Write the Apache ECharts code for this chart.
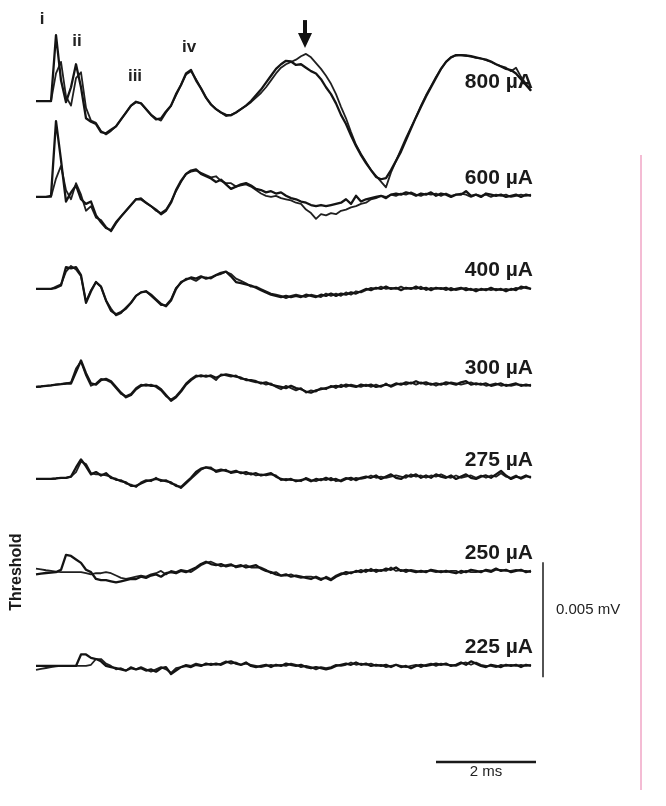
<!DOCTYPE html>
<html><head><meta charset="utf-8">
<script src="https://cdn.jsdelivr.net/npm/echarts/dist/echarts.min.js"></script>
<style>html,body{margin:0;padding:0;background:#fff}#c{width:666px;height:806px}</style>
</head><body><div id="c"></div>
<script>
// sample spacing (ms); every trace starts at t = 0
const DT = 0.1;
// stimulus levels (top to bottom)
const levels = ['800 µA', '600 µA', '400 µA', '300 µA', '275 µA', '250 µA', '225 µA'];
// vertical stacking offset of each trace baseline (µV)
const offsets = [30.65, 26.48, 22.48, 18.22, 14.22, 10.17, 6.09];

// two repeated recordings per level, values in µV relative to baseline
const tr800a = [0,0,0,0,2.87,0.9,-0.05,0.6,1.6,0.6,
-0.75,-0.9,-1.0,-1.35,-1.4,-1.25,-1.1,-0.8,-0.5,-0.2,
-0.03,-0.1,-0.35,-0.6,-0.8,-0.75,-0.45,-0.2,0.3,0.7,
1.2,1.35,0.9,0.55,0.15,-0.15,-0.35,-0.5,-0.6,-0.62,
-0.5,-0.35,-0.2,0.0,0.25,0.5,0.8,1.1,1.4,1.6,
1.75,1.72,1.57,1.6,1.45,1.3,1.2,0.95,0.6,0.3,
-0.1,-0.6,-1.0,-1.5,-1.95,-2.35,-2.7,-3.0,-3.3,-3.4,
-3.35,-3.0,-2.6,-2.2,-1.7,-1.2,-0.7,-0.25,0.2,0.6,
1.0,1.4,1.7,1.9,2.0,2.0,1.98,1.95,1.9,1.85,
1.8,1.72,1.6,1.5,1.4,1.35,1.2,0.95,0.7,0.45];
const tr800b = [0,0,0,0,1.2,1.7,0.2,-0.2,1.0,1.25,
-0.3,-0.85,-0.95,-1.3,-1.45,-1.3,-1.1,-0.8,-0.5,-0.2,
-0.05,-0.1,-0.35,-0.6,-0.75,-0.85,-0.5,-0.2,0.25,0.7,
1.15,1.3,0.95,0.55,0.15,-0.15,-0.35,-0.5,-0.65,-0.6,
-0.5,-0.35,-0.2,-0.05,0.15,0.35,0.6,0.9,1.2,1.45,
1.6,1.7,1.8,1.95,2.05,1.9,1.65,1.4,1.1,0.75,
0.3,-0.25,-0.75,-1.35,-1.9,-2.3,-2.65,-3.0,-3.25,-3.5,
-3.75,-3.1,-2.6,-2.1,-1.6,-1.15,-0.7,-0.2,0.25,0.65,
1.05,1.4,1.7,1.9,1.98,2.0,1.97,1.93,1.88,1.85,
1.78,1.7,1.6,1.52,1.45,1.3,1.45,1.05,0.75,0.45];
const tr600a = [0,0,0,0.05,3.3,1.6,-0.2,0.2,0.5,-0.1,
-0.3,-0.2,-0.8,-1.1,-1.35,-1.45,-1.1,-0.85,-0.6,-0.35,
-0.1,-0.1,-0.25,-0.4,-0.55,-0.75,-0.6,-0.25,0.3,0.7,
1.0,1.15,1.2,1.0,0.9,0.8,0.65,0.75,0.55,0.35,
0.45,0.55,0.6,0.5,0.35,0.3,0.2,0.25,0.15,0.2,
0.05,-0.05,-0.1,-0.2,-0.25,-0.35,-0.4,-0.35,-0.4,-0.35,
-0.3,-0.25,-0.1,-0.3,0.05,-0.2,-0.1,-0.05,0.0,0.05,
-0.05,0.1,0.15,0.1,0.2,0.15,0.05,0.15,0.1,0.2,
0.05,0.15,0.1,0.0,0.1,0.1,0.25,0.05,0.1,0.0,
0.15,0.1,0.05,0.1,0.0,0.05,0.1,0.0,0.1,0.05];
const tr600b = [0,0,0,0,0.8,1.35,0.3,-0.1,0.6,0.1,
-0.6,-0.4,-0.9,-1.0,-1.3,-1.5,-1.15,-0.85,-0.6,-0.35,
-0.1,-0.05,-0.25,-0.4,-0.6,-0.7,-0.55,-0.2,0.25,0.65,
1.0,1.1,1.15,1.05,0.95,0.85,0.9,0.7,0.6,0.6,
0.45,0.5,0.55,0.45,0.3,0.15,0.05,0.0,0.05,-0.05,
-0.1,-0.15,-0.25,-0.3,-0.55,-0.7,-0.95,-0.75,-0.8,-0.7,
-0.75,-0.6,-0.55,-0.45,-0.4,-0.3,-0.25,-0.1,-0.05,0.05,
0.0,0.1,0.05,0.15,0.1,0.2,0.1,0.05,0.15,0.1,
0.15,0.05,0.15,0.05,0.1,0.15,0.1,0.0,0.1,0.05,
0.1,0.0,0.1,0.05,0.1,0.0,0.05,0.1,0.05,0.1];
const tr400a = [0,0,0,0,0.05,0.15,0.95,0.9,0.95,0.6,
-0.6,-0.1,0.3,0.1,-0.5,-0.95,-1.1,-1.0,-0.85,-0.6,
-0.3,-0.15,-0.1,-0.25,-0.45,-0.65,-0.75,-0.5,0.0,0.3,
0.4,0.5,0.45,0.55,0.45,0.5,0.6,0.7,0.75,0.55,
0.3,0.25,0.2,0.15,0.05,-0.05,-0.15,-0.25,-0.3,-0.35,
-0.3,-0.35,-0.3,-0.35,-0.25,-0.3,-0.35,-0.25,-0.3,-0.2,
-0.3,-0.2,-0.25,-0.15,-0.2,-0.1,0.0,-0.05,0.05,0.0,
0.1,0.0,0.05,-0.05,0.05,0.0,0.1,0.0,0.05,-0.05,
0.05,0.0,0.05,-0.05,0.0,0.05,-0.05,0.0,-0.1,0.0,
-0.05,0.05,-0.05,0.0,-0.1,0.0,-0.05,0.1,0.05,0.0];
const tr400b = [0,0,0,0,0.1,0.2,0.75,1.0,0.85,0.55,
-0.55,-0.05,0.3,0.1,-0.5,-0.85,-1.15,-1.05,-0.8,-0.6,
-0.3,-0.15,-0.1,-0.3,-0.5,-0.7,-0.7,-0.45,0.05,0.25,
0.45,0.45,0.35,0.5,0.5,0.45,0.6,0.65,0.75,0.65,
0.45,0.35,0.25,0.1,0.1,0.0,-0.1,-0.2,-0.25,-0.3,
-0.4,-0.3,-0.25,-0.3,-0.35,-0.25,-0.3,-0.35,-0.2,-0.3,
-0.2,-0.3,-0.15,-0.25,-0.1,-0.15,-0.05,0.05,0.0,0.1,
0.0,0.05,0.0,0.1,0.0,0.05,0.0,0.1,-0.05,0.05,
0.0,0.05,-0.05,0.05,-0.05,0.0,0.05,-0.05,0.0,-0.05,
0.0,-0.05,0.0,-0.05,0.0,-0.05,0.05,0.0,0.1,0.0];
const tr300a = [0,0.02,0.05,0.07,0.1,0.12,0.15,0.15,0.65,1.15,
0.6,0.15,0.1,0.3,0.35,0.25,0.0,-0.25,-0.45,-0.35,
-0.1,0.05,0.1,0.05,0.05,-0.1,-0.35,-0.6,-0.45,-0.2,
0.1,0.3,0.45,0.5,0.45,0.5,0.4,0.5,0.55,0.5,
0.45,0.4,0.3,0.3,0.25,0.15,0.2,0.1,0.05,0.0,
-0.05,0.05,-0.05,-0.1,-0.2,-0.25,-0.15,-0.1,-0.05,0.0,
0.05,0.0,0.1,0.05,0.0,0.1,0.05,0.1,0.0,0.05,
0.1,0.05,0.15,0.1,0.2,0.15,0.25,0.15,0.2,0.1,
0.15,0.1,0.2,0.15,0.1,0.2,0.25,0.1,0.15,0.1,
0.15,0.05,0.1,0.15,0.05,0.1,0.15,0.05,0.1,0.05];
const tr300b = [0,0.02,0.05,0.07,0.1,0.12,0.15,0.2,0.8,1.1,
0.5,0.05,0.15,0.35,0.3,0.2,-0.05,-0.3,-0.4,-0.3,
-0.05,0.1,0.05,0.1,0.0,-0.15,-0.4,-0.55,-0.4,-0.15,
0.15,0.35,0.5,0.45,0.5,0.45,0.3,0.55,0.5,0.45,
0.5,0.35,0.35,0.25,0.2,0.2,0.1,0.15,0.0,-0.1,
0.05,-0.05,-0.15,-0.05,-0.25,-0.15,-0.2,-0.05,-0.1,0.05,
-0.05,0.1,0.0,0.1,0.05,0.0,0.1,0.0,0.1,0.0,
0.15,0.0,0.1,0.15,0.1,0.2,0.1,0.2,0.1,0.15,
0.05,0.15,0.1,0.2,0.15,0.1,0.15,0.2,0.1,0.15,
0.05,0.1,0.15,0.05,0.1,0.05,0.1,0.1,0.05,0.1];
const tr275a = [0,0,0,0,0.02,0.05,0.05,0.1,0.5,0.85,
0.55,0.2,0.3,0.15,0.25,0.05,0.0,-0.1,-0.15,-0.3,
-0.3,-0.2,-0.1,-0.05,0.0,-0.05,-0.1,-0.15,-0.3,-0.35,
-0.15,0.05,0.3,0.45,0.5,0.45,0.35,0.4,0.35,0.3,
0.35,0.25,0.3,0.2,0.25,0.15,0.2,0.25,0.1,0.0,
-0.05,0.0,-0.1,-0.05,0.0,-0.1,0.0,-0.05,0.05,-0.05,
0.0,-0.1,0.0,0.05,-0.05,0.05,0.1,0.05,0.15,0.0,
0.1,0.2,0.05,0.0,0.15,0.1,0.2,0.05,0.15,0.05,
0.2,0.1,0.05,0.15,0.0,0.1,0.2,0.05,0.0,0.1,
0.15,0.05,0.2,0.35,0.15,0.0,0.1,0.05,0.15,0.05];
const tr275b = [0,0,0,0,0.02,0.05,0.05,0.1,0.3,0.75,
0.65,0.25,0.2,0.2,0.15,0.1,-0.05,-0.05,-0.2,-0.25,
-0.35,-0.15,-0.05,-0.1,0.05,-0.1,-0.05,-0.2,-0.25,-0.4,
-0.2,0.0,0.2,0.4,0.5,0.5,0.3,0.35,0.4,0.25,
0.3,0.3,0.2,0.25,0.15,0.2,0.15,0.2,0.15,-0.05,
0.0,-0.05,-0.05,-0.1,0.05,-0.05,-0.1,0.0,-0.05,0.05,
-0.1,-0.05,0.05,-0.05,0.05,0.0,0.05,0.15,0.05,0.1,
0.05,0.1,0.15,0.1,0.05,0.2,0.1,0.15,0.05,0.15,
0.1,0.2,0.1,0.05,0.15,0.05,0.1,0.15,0.05,0.15,
0.05,0.15,0.1,0.25,0.1,0.05,0.15,0.0,0.1,0.1];
const tr250a = [-0.1,-0.07,-0.04,-0.02,0,0.1,0.75,0.7,0.55,0.4,
0.1,0.0,-0.3,-0.35,-0.35,-0.4,-0.45,-0.4,-0.35,-0.3,
-0.3,-0.2,-0.25,-0.15,-0.1,-0.2,-0.05,0.0,-0.05,0.05,
0.0,0.1,0.2,0.35,0.45,0.35,0.3,0.35,0.25,0.3,
0.25,0.3,0.2,0.25,0.3,0.15,0.05,0.0,-0.1,-0.15,
-0.1,-0.2,-0.15,-0.2,-0.25,-0.3,-0.2,-0.3,-0.25,-0.35,
-0.2,-0.1,0.0,-0.05,0.05,0.0,0.1,0.05,0.1,0.05,
0.15,0.1,0.2,0.05,0.1,0.05,0.0,0.05,0.0,0.1,
0.05,0.0,0.05,0.0,-0.05,0.05,0.0,0.1,0.05,0.0,
0.1,0.05,0.15,0.05,0.1,0.0,0.05,0.1,0.0,0.05];
const tr250b = [0.15,0.12,0.08,0.05,0.02,0.0,0.0,0.0,0.0,0.0,
-0.05,-0.1,-0.05,-0.05,0.0,-0.05,-0.15,-0.25,-0.3,-0.25,
-0.2,-0.15,-0.2,-0.1,-0.05,0.05,-0.1,0.05,0.0,0.1,
0.05,0.0,0.15,0.3,0.4,0.45,0.35,0.25,0.3,0.35,
0.2,0.25,0.3,0.2,0.2,0.2,0.1,-0.05,0.0,-0.15,
-0.15,-0.1,-0.2,-0.25,-0.2,-0.2,-0.25,-0.35,-0.2,-0.3,
-0.15,-0.05,-0.1,0.0,0.0,0.1,0.0,0.15,0.0,0.1,
0.05,0.2,0.05,0.1,0.0,0.1,0.05,0.0,0.05,0.05,
0.0,0.05,0.0,0.05,0.05,-0.05,0.05,0.0,0.0,0.05,
0.05,0.0,0.1,0.1,0.05,0.05,0.1,0.05,0.05,0.0];
const tr225a = [0,0,0,0,0,0,0,0,0.0,0.5,
0.5,0.35,0.3,0.2,0.0,-0.05,-0.1,-0.15,-0.2,-0.1,
-0.15,-0.1,-0.2,-0.15,-0.25,-0.1,-0.05,-0.35,-0.2,-0.05,
0.0,-0.05,0.05,0.0,0.1,0.05,0.1,0.05,0.15,0.2,
0.1,0.05,0.15,0.0,-0.05,0.0,0.05,-0.05,0.05,0.0,
0.1,0.05,0.0,0.05,-0.05,-0.1,-0.05,-0.1,-0.15,-0.1,
0.0,0.05,0.1,0.05,0.15,0.05,0.1,0.0,0.05,0.0,
0.05,-0.05,0.05,-0.05,0.0,-0.1,0.0,0.05,0.0,0.05,
0.1,0.05,0.1,0.0,0.05,0.15,0.05,0.2,0.1,0.0,
-0.05,0.05,0.0,-0.05,0.05,0.0,0.05,-0.05,0.05,0.0];
const tr225b = [-0.17,-0.13,-0.09,-0.05,-0.02,0,0,0,0,0,
0.0,0.05,0.3,0.3,0.1,0.0,-0.15,-0.1,-0.2,-0.05,
-0.15,-0.05,-0.15,-0.25,-0.15,-0.05,-0.15,-0.3,-0.1,-0.05,
0.05,0.0,0.1,0.05,0.05,0.1,0.05,0.1,0.2,0.1,
0.15,0.05,0.1,0.05,0.0,-0.05,0.0,0.05,0.0,0.05,
0.0,0.1,0.05,-0.05,0.0,-0.05,-0.15,-0.05,-0.1,-0.05,
0.05,0.0,0.05,0.15,0.05,0.1,0.05,0.1,0.0,0.05,
-0.05,0.0,0.05,0.0,-0.05,0.0,0.05,-0.05,0.05,0.1,
0.0,0.1,0.05,0.05,0.0,0.1,0.15,0.05,0.15,0.05,
0.0,0.0,-0.05,0.05,0.0,0.05,0.0,0.05,0.0,0.05];

const recA = [tr800a, tr600a, tr400a, tr300a, tr275a, tr250a, tr225a];
const recB = [tr800b, tr600b, tr400b, tr300b, tr275b, tr250b, tr225b];

// wave labels and their anchor (ms, µV above the 800 µA baseline)
const waveNames = ['i', 'ii', 'iii', 'iv'];
const waveT = [0.12, 0.82, 1.98, 3.06];
const waveV = [3.57, 2.61, 1.09, 2.35];
// arrow marking the late wave of the 800 µA trace (ms, µV above baseline)
const arrowT = 5.38, arrowTipV = 2.31, arrowTopV = 3.52;
// scale bars
const timeBar = {from: 8, to: 10, v: 1.91, label: '2 ms'};
const voltBar = {t: 10.14, from: 5.6, to: 10.6, label: '0.005 mV'};
const edgeLine = {t: 12.1, from: 0.7, to: 28.3};

(function () {
const Y_MAX = 806 / 23;
const FONT = '"Liberation Sans", Arial, Helvetica, sans-serif';

const chart = echarts.init(document.getElementById('c'), null, {renderer: 'canvas'});

const series = [];
recA.forEach((arr, k) => {
  series.push({
    type: 'line', symbol: 'none', silent: true, z: 4,
    data: arr.map((v, i) => [i * DT, v + offsets[k]]),
    lineStyle: {color: '#141414', width: 2.3, join: 'round'}
  });
  series.push({
    type: 'line', symbol: 'none', silent: true, z: 3,
    data: recB[k].map((v, i) => [i * DT, v + offsets[k]]),
    lineStyle: {color: '#202020', width: 1.8, join: 'round'}
  });
});
series.push({type: 'line', symbol: 'none', silent: true,
  data: [[timeBar.from, timeBar.v], [timeBar.to, timeBar.v]],
  lineStyle: {color: '#1a1a1a', width: 2.5}});
series.push({type: 'line', symbol: 'none', silent: true,
  data: [[voltBar.t, voltBar.from], [voltBar.t, voltBar.to]],
  lineStyle: {color: '#1a1a1a', width: 1.5}});
series.push({type: 'line', symbol: 'none', silent: true,
  data: [[edgeLine.t, edgeLine.from], [edgeLine.t, edgeLine.to]],
  lineStyle: {color: '#f0a6c6', width: 1.5}});

chart.setOption({
  animation: false,
  backgroundColor: '#ffffff',
  grid: {left: 36, right: 0, top: 0, bottom: 0},
  xAxis: {type: 'value', min: 0, max: 12.6, show: false},
  yAxis: {type: 'value', min: 0, max: Y_MAX, show: false},
  series: series
});

const px = (t, v) => chart.convertToPixel({gridIndex: 0}, [t, v]);
const g = [];
levels.forEach((lab, k) => {
  const p = px(9.94, offsets[k]);
  g.push({type: 'text', x: p[0], y: p[1] - 19, z: 1,
    style: {text: lab, font: 'bold 21px ' + FONT, fill: '#1a1a1a',
      textAlign: 'right', textVerticalAlign: 'middle', align: 'right', verticalAlign: 'middle'}});
});
waveNames.forEach((w, i) => {
  const p = px(waveT[i], offsets[0] + waveV[i]);
  g.push({type: 'text', x: p[0], y: p[1], z: 1,
    style: {text: w, font: 'bold 17px ' + FONT, fill: '#222',
      textAlign: 'center', textVerticalAlign: 'middle', align: 'center', verticalAlign: 'middle'}});
});
const tipP = px(arrowT, offsets[0] + arrowTipV);
const topP = px(arrowT, offsets[0] + arrowTopV);
g.push({type: 'polygon', z: 5, shape: {points: [[tipP[0] - 7, tipP[1] - 15], [tipP[0] + 7, tipP[1] - 15], [tipP[0], tipP[1]]]},
  style: {fill: '#111'}});
g.push({type: 'rect', z: 5, shape: {x: tipP[0] - 2, y: topP[1], width: 4, height: tipP[1] - 13 - topP[1]},
  style: {fill: '#111'}});
const thr = px(0, offsets[5]);
g.push({type: 'text', x: 17, y: thr[1], rotation: Math.PI / 2,
  style: {text: 'Threshold', font: 'bold 16px ' + FONT, fill: '#1a1a1a',
    textAlign: 'center', textVerticalAlign: 'middle', align: 'center', verticalAlign: 'middle'}});
const vb = px(voltBar.t, (voltBar.from + voltBar.to) / 2);
g.push({type: 'text', x: vb[0] + 13, y: vb[1] - 10,
  style: {text: voltBar.label, font: '15px ' + FONT, fill: '#222',
    textAlign: 'left', textVerticalAlign: 'middle', align: 'left', verticalAlign: 'middle'}});
const tb = px((timeBar.from + timeBar.to) / 2, timeBar.v);
g.push({type: 'text', x: tb[0], y: tb[1] + 10,
  style: {text: timeBar.label, font: '15px ' + FONT, fill: '#222',
    textAlign: 'center', textVerticalAlign: 'middle', align: 'center', verticalAlign: 'middle'}});
chart.setOption({graphic: g});
})();
</script>
</body></html>
